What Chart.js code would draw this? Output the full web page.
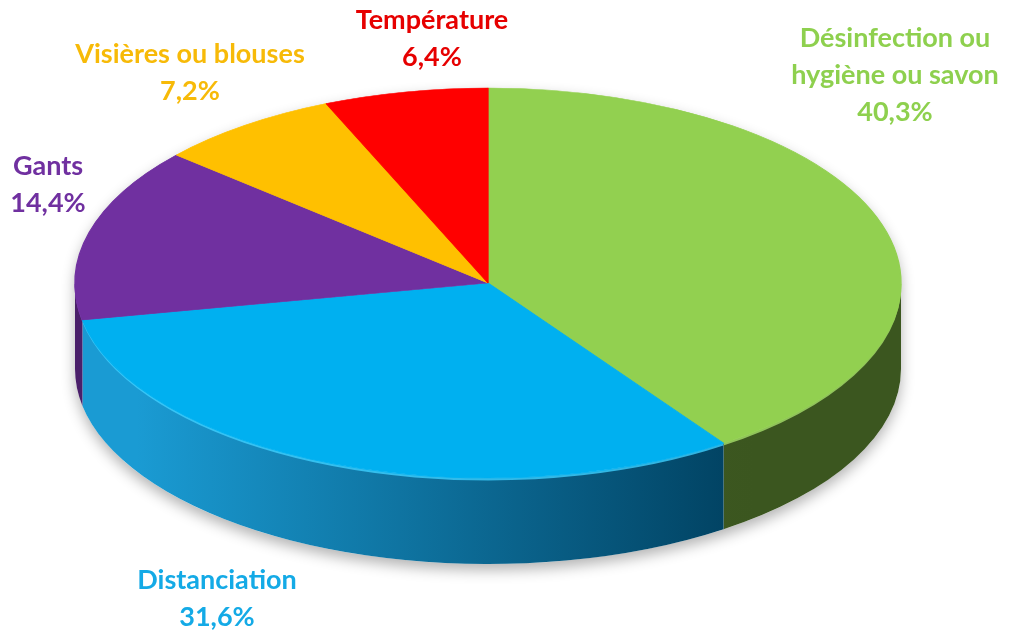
<!DOCTYPE html>
<html>
<head>
<meta charset="utf-8">
<script src="https://cdn.jsdelivr.net/npm/chart.js@4.4.1/dist/chart.umd.min.js"></script>
<style>
html,body{margin:0;padding:0;background:#fff;}
#wrap{position:relative;width:1012px;height:635px;}
</style>
</head>
<body>
<div id="wrap"><canvas id="c" width="1012" height="635"></canvas></div>
<script>
// ---- data ----
const categories = ['Désinfection ou hygiène ou savon', 'Distanciation', 'Gants', 'Visières ou blouses', 'Température'];
const labelLines = [['Désinfection ou', 'hygiène ou savon'], ['Distanciation'], ['Gants'], ['Visières ou blouses'], ['Température']];
const values = [40.3, 31.6, 14.4, 7.2, 6.4];

// ---- styles ----
const colors = ['#92D050', '#00B0F0', '#7030A0', '#FFC000', '#FF0000'];
const textColors = ['#8ED04E', '#14AAE6', '#7030A0', '#F7BA08', '#E60000'];
const sideStops = [['#47652a', '#3b561f'], ['#1a9bd3', '#003f5e'], ['#4a1f6a', '#3a1554'], ['#a87e00', '#8a6800'], ['#a80000', '#8a0000']];
const rimColors = ['#a6df6a', '#3dd0ff', '#8a4cc0', '#ffd24a', '#ff4a4a'];
// geometry of the projected pie
const G = { cx: 488, cy: 283, rx: 413, ry: 195, depth: 86 };
// label anchor centres (x, y of first line)
const labelPos = [[895, 38], [217, 580], [48, 166], [190, 54], [432, 20]];

function pct(v){ return v.toFixed(1).replace('.', ',') + '%'; }

const pie3d = {
  id: 'pie3d',
  beforeDatasetsDraw(chart) {
    const ctx = chart.ctx;
    const meta = chart.getDatasetMeta(0);
    // shadow under the whole disc
    ctx.save();
    ctx.shadowColor = 'rgba(0,0,0,0.30)';
    ctx.shadowBlur = 14;
    ctx.shadowOffsetY = 6;
    ctx.fillStyle = '#ffffff';
    ctx.beginPath();
    ctx.ellipse(G.cx, G.cy + G.depth, G.rx, G.ry, 0, 0, Math.PI);
    ctx.ellipse(G.cx, G.cy, G.rx, G.ry, 0, Math.PI, 2 * Math.PI);
    ctx.closePath();
    ctx.fill();
    ctx.restore();
    // side walls of the front half
    meta.data.forEach((arc, i) => {
      const p = arc.getProps(['startAngle', 'endAngle'], true);
      let a0 = ((p.startAngle % (2*Math.PI)) + 2*Math.PI) % (2*Math.PI);
      let a1 = a0 + (p.endAngle - p.startAngle);
      const segs = [[a0, a1], [a0 - 2*Math.PI, a1 - 2*Math.PI], [a0 + 2*Math.PI, a1 + 2*Math.PI]];
      segs.forEach(([s, e]) => {
        const s2 = Math.max(s, 0), e2 = Math.min(e, Math.PI);
        if (e2 <= s2) return;
        const gr = ctx.createLinearGradient(G.cx - G.rx * 0.85, 0, G.cx + G.rx * 0.65, 0);
        gr.addColorStop(0, sideStops[i][0]);
        gr.addColorStop(1, sideStops[i][1]);
        ctx.save();
        ctx.fillStyle = gr;
        ctx.beginPath();
        ctx.ellipse(G.cx, G.cy, G.rx, G.ry, 0, s2, e2, false);
        ctx.ellipse(G.cx, G.cy + G.depth, G.rx, G.ry, 0, e2, s2, true);
        ctx.closePath();
        ctx.fill();
        // rim highlight
        ctx.strokeStyle = rimColors[i];
        ctx.lineWidth = 3;
        ctx.globalAlpha = 0.8;
        ctx.beginPath();
        ctx.ellipse(G.cx, G.cy + 1, G.rx - 1, G.ry, 0, s2, e2, false);
        ctx.stroke();
        ctx.restore();
      });
    });
    // squash the top face into an ellipse
    const a = meta.data[0];
    const R = a.outerRadius;
    ctx.save();
    ctx.translate(G.cx, G.cy);
    ctx.scale(G.rx / R, G.ry / R);
    ctx.translate(-a.x, -a.y);
  },
  afterDatasetsDraw(chart) {
    chart.ctx.restore();
  },
  afterDraw(chart) {
    const ctx = chart.ctx;
    ctx.save();
    ctx.font = 'bold 27px Lato, "Open Sans", sans-serif';
    ctx.textAlign = 'center';
    ctx.textBaseline = 'middle';
    labelLines.forEach((lines, i) => {
      const all = lines.concat([pct(values[i])]);
      ctx.fillStyle = textColors[i];
      all.forEach((t, k) => {
        ctx.fillText(t, labelPos[i][0], labelPos[i][1] + k * 37);
      });
    });
    ctx.restore();
  }
};

new Chart(document.getElementById('c'), {
  type: 'pie',
  data: {
    labels: categories,
    datasets: [{
      data: values,
      backgroundColor: colors,
      borderColor: colors,
      borderWidth: 1
    }]
  },
  options: {
    responsive: false,
    animation: false,
    events: [],
    plugins: { legend: { display: false }, tooltip: { enabled: false } }
  },
  plugins: [pie3d]
});
</script>
</body>
</html>
